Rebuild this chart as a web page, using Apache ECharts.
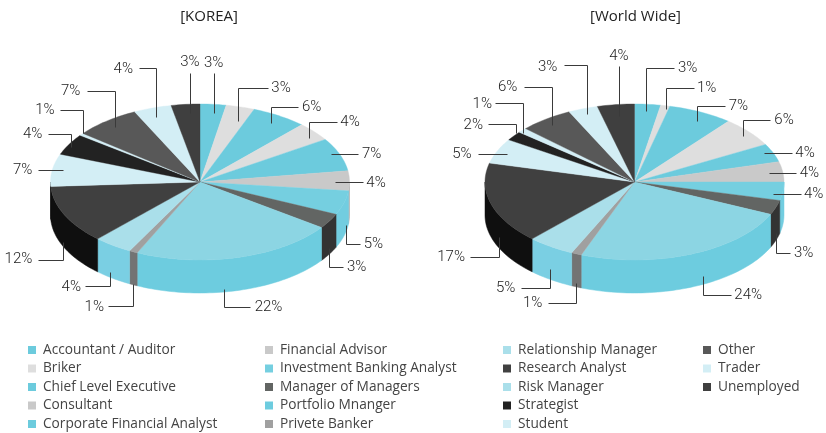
<!DOCTYPE html>
<html><head><meta charset="utf-8">
<style>html,body{margin:0;padding:0;background:#fff}#c{width:826px;height:433px}</style>
<script src="https://cdn.jsdelivr.net/npm/echarts@6/dist/echarts.min.js"></script>
</head><body><div id="c"></div>
<script>
const categories = ['Accountant / Auditor','Briker','Chief Level Executive','Consultant','Corporate Financial Analyst','Financial Advisor','Investment Banking Analyst','Manager of Managers','Portfolio Mnanger','Privete Banker','Relationship Manager','Research Analyst','Risk Manager','Strategist','Student','Other','Trader','Unemployed'];
const koreaValues = [2.8,3.1,6.0,3.9,6.9,4.1,5.0,3.1,22.0,0.9,4.2,12.1,6.7,4.4,0.5,7.1,4.1,3.1];
const worldValues = [2.8,1.0,7.0,6.2,3.8,4.2,3.8,3.0,24.0,1.1,5.1,16.9,5.2,1.9,1.0,5.8,3.2,4.0];
const legendColors = ['#6ccbdd','#dedede','#6ccbdd','#c9c9c9','#6ccbdd','#c9c9c9','#75cfe0','#626563','#6dccdf','#a0a0a0','#aadfea','#404040','#aadfea','#222222','#d3eef5','#585858','#d3eef5','#3f3f3f'];
const topColors = ['#6ccbdd','#dedede','#6ccbdd','#dedede','#6ccbdd','#c9c9c9','#75cfe0','#626563','#8cd5e3','#a0a0a0','#aadfea','#404040','#d3eef5','#222222','#d3eef5','#585858','#d3eef5','#3f3f3f'];
const sideColors = ['#6ccbdd','#dedede','#6ccbdd','#dedede','#6ccbdd','#a8a8a8','#72cde0','#333333','#6dccdf','#737373','#7acfe3','#0f0f0f','#0f0f0f','#111111','#aaaaaa','#333333','#aaaaaa','#222222'];
// annotation layout, in reference zoom units (3 per px): leader polyline, then label anchor [x, y, align]
const koreaLeaders = [
 [[[641,340],[641,218]],[641,186,'center']],
 [[[713,362],[713,265],[803,265]],[814,262,'left']],
 [[[812,368],[812,322],[895,322]],[906,319,'left']],
 [[[927,413],[927,367],[1010,367]],[1021,364,'left']],
 [[[992,463],[1075,463]],[1086,461,'left']],
 [[[1005,547],[1088,547]],[1099,546,'left']],
 [[[1038,675],[1038,731],[1080,731]],[1091,729,'left']],
 [[[988,744],[988,802],[1030,802]],[1041,800,'left']],
 [[[672,866],[672,920],[750,920]],[764,918,'left']],
 [[[400,852],[400,917],[325,917]],[312,918,'right']],
 [[[329,815],[329,857],[255,857]],[243,860,'right']],
 [[[190,725],[190,780],[115,780]],[97,775,'right']],
 [[[190,511],[115,511]],[97,509,'right']],
 [[[212,440],[212,401],[144,401]],[127,399,'right']],
 [[[249,400],[249,329],[181,329]],[164,329,'right']],
 [[[346,380],[346,273],[262,273]],[241,271,'right']],
 [[[467,352],[467,205],[418,205]],[399,206,'right']],
 [[[570,340],[570,218]],[570,185,'center']]
];
const worldLeaders = [
 [[[700,332],[700,205],[783,205]],[795,203,'left']],
 [[[758,328],[758,264],[842,264]],[852,261,'left']],
 [[[852,364],[852,317],[936,317]],[947,315,'left']],
 [[[989,407],[989,361],[1072,361]],[1084,358,'left']],
 [[[1053,459],[1136,459]],[1147,458,'left']],
 [[[1067,518],[1150,518]],[1160,516,'left']],
 [[[1080,582],[1163,582]],[1173,579,'left']],
 [[[1089,700],[1089,760],[1132,760]],[1143,757,'left']],
 [[[869,827],[869,886],[953,886]],[964,883,'left']],
 [[[490,850],[490,908],[406,908]],[388,906,'right']],
 [[[410,806],[410,865],[325,865]],[307,862,'right']],
 [[[257,712],[257,770],[172,770]],[156,768,'right']],
 [[[281,461],[196,461]],[176,459,'right']],
 [[[309,400],[309,373],[224,373]],[210,373,'right']],
 [[[331,398],[331,309],[247,309]],[237,310,'right']],
 [[[418,375],[418,260],[334,260]],[313,258,'right']],
 [[[523,343],[523,195],[452,195]],[433,199,'right']],
 [[[618,347],[618,198]],[618,165,'center']]
];

const FONT = '"Open Sans", "Noto Sans", sans-serif';
const PCT_FONT = 'Roboto, "Open Sans", sans-serif';
const TXT = '#222222';
const RX = 149.5, RY = 78, DEPTH = 33, CY = 182;

function wedges(values){
  const total = values.reduce((a,b)=>a+b,0);
  let c = 0;
  return values.map((v,i)=>{ const s=c/total*360; c+=v; return [s,c/total*360,i,v]; });
}
function rim(cx,deg,dy){
  const t = deg*Math.PI/180;
  return [cx+RX*Math.sin(t), CY-RY*Math.cos(t)+(dy||0)];
}
function arc(cx,a,b,dy){
  const n = Math.max(2,Math.ceil(Math.abs(b-a)/1.5));
  const out=[];
  for(let k=0;k<=n;k++) out.push(rim(cx,a+(b-a)*k/n,dy));
  return out;
}
function pieSeries(name,cx,values,leaders,offsetX){
  const data = wedges(values);
  return [
   {type:'custom',name:name+' side',coordinateSystem:'none',silent:true,z:2,data:data,
    renderItem(p,api){
      const i=api.value(2);
      const a=Math.max(api.value(0),90), b=Math.min(api.value(1),270);
      if(b<=a) return {type:'group',children:[]};
      const pts=arc(cx,a,b,0).concat(arc(cx,b,a,DEPTH));
      return {type:'polygon',shape:{points:pts},style:{fill:sideColors[i],stroke:sideColors[i],lineWidth:0.5}};
    }},
   {type:'custom',name:name+' top',coordinateSystem:'none',silent:true,z:3,data:data,
    renderItem(p,api){
      const i=api.value(2);
      const pts=[[cx,CY]].concat(arc(cx,api.value(0),api.value(1),0));
      return {type:'polygon',shape:{points:pts},style:{fill:topColors[i],stroke:topColors[i],lineWidth:0.4}};
    }},
   {type:'custom',name:name+' labels',coordinateSystem:'none',silent:true,z:4,data:data,
    renderItem(p,api){
      const i=api.value(2), L=leaders[i];
      const snap=v=>Math.round(v)+0.5;
      const pts=L[0].map(q=>[snap(offsetX+q[0]/3),snap(q[1]/3)]);
      return {type:'group',children:[
        {type:'polyline',shape:{points:pts},style:{stroke:'#3a3a3a',lineWidth:1,fill:'none'}},
        {type:'text',x:offsetX+L[1][0]/3,y:L[1][1]/3+1,style:{text:Math.round(api.value(3))+'%',
          font:'300 15px '+PCT_FONT,fill:TXT,align:L[1][2],verticalAlign:'middle'}}
      ]};
    }}
  ];
}
const legendCols = [[categories.slice(0,5),28],[categories.slice(5,10),265],[categories.slice(10,15),503],[categories.slice(15,18),703]];
const chart = echarts.init(document.getElementById('c'),null,{renderer:'canvas',width:826,height:433});
chart.setOption({
  animation:false,
  backgroundColor:'#fff',
  title:[
    {text:'[KOREA]',left:204,top:4,textAlign:'center',textStyle:{fontSize:15,fontWeight:'normal',fontFamily:FONT,color:'#222'}},
    {text:'[World Wide]',left:630.5,top:4,textAlign:'center',textStyle:{fontSize:15,fontWeight:'normal',fontFamily:FONT,color:'#222'}}
  ],
  legend:legendCols.map(c=>({
    data:c[0],left:c[1],top:343,orient:'vertical',icon:'rect',itemWidth:8,itemHeight:8,itemGap:4.5,padding:0,selectedMode:false,
    textStyle:{fontSize:13.7,fontFamily:FONT,color:'#444',padding:[0,0,0,2],lineHeight:14}
  })),
  series:[
    {type:'pie',name:'legend',radius:[0,0],center:[-50,-50],silent:true,label:{show:false},labelLine:{show:false},
     data:categories.map((n,i)=>({name:n,value:1,itemStyle:{color:legendColors[i]}}))}
  ].concat(pieSeries('KOREA',200,koreaValues,koreaLeaders,0))
   .concat(pieSeries('World Wide',634.5,worldValues,worldLeaders,413))
});
</script></body></html>
